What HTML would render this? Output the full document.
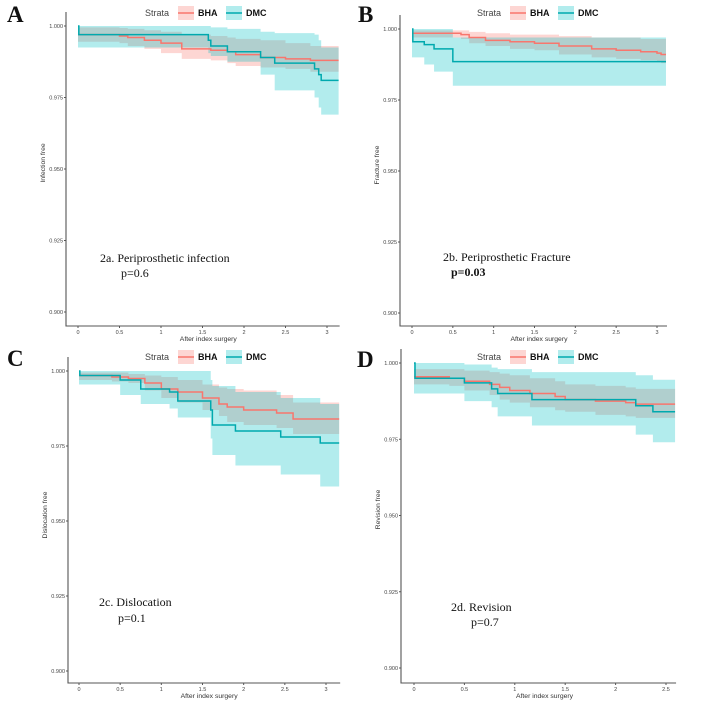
<!DOCTYPE html>
<html><head><meta charset="utf-8">
<style>
html,body{margin:0;padding:0;background:#fff;}
svg{display:block;font-family:"Liberation Sans",sans-serif;}
.serif{font-family:"Liberation Serif",serif;}
</style></head>
<body>
<svg id="chart" width="710" height="702" viewBox="0 0 710 702"></svg>
<script>
// ---- Panel A: infection ----
const aBhaT=[0,0.5,0.6,0.8,1.0,1.25,1.6,1.8,1.9,2.2,2.5,2.8];
const aBhaS=[0.997,0.9965,0.996,0.995,0.994,0.992,0.9915,0.991,0.990,0.989,0.9885,0.988];
const aBhaU=[0.9995,0.9993,0.999,0.9985,0.998,0.997,0.9965,0.996,0.9955,0.995,0.994,0.993];
const aBhaL=[0.9945,0.994,0.993,0.992,0.9905,0.9885,0.988,0.987,0.986,0.9855,0.985,0.984];
const aDmcT=[0,0.01,1.57,1.6,1.8,2.2,2.37,2.85,2.9,2.93];
const aDmcS=[1.0,0.997,0.995,0.993,0.991,0.989,0.987,0.985,0.983,0.981];
const aDmcU=[1.0,1.0,1.0,0.9995,0.999,0.998,0.9975,0.997,0.995,0.9925];
const aDmcL=[0.9925,0.9925,0.9905,0.9895,0.9875,0.983,0.9775,0.975,0.9715,0.969];
// ---- Panel B: fracture ----
const bBhaT=[0,0.6,0.7,0.9,1.2,1.5,1.8,2.2,2.5,2.8,3.0,3.05];
const bBhaS=[0.9985,0.998,0.997,0.996,0.9955,0.995,0.994,0.993,0.9925,0.992,0.9915,0.991];
const bBhaU=[0.9995,0.9995,0.999,0.9985,0.998,0.998,0.9975,0.997,0.997,0.9965,0.9965,0.9965];
const bBhaL=[0.997,0.9965,0.995,0.994,0.993,0.9925,0.991,0.990,0.9895,0.989,0.9885,0.988];
const bDmcT=[0,0.01,0.15,0.27,0.5];
const bDmcS=[1.0,0.9955,0.9945,0.993,0.9885];
const bDmcU=[1.0,1.0,1.0,1.0,0.997];
const bDmcL=[0.990,0.990,0.9875,0.985,0.980];
// ---- Panel C: dislocation ----
const cBhaT=[0,0.4,0.6,0.8,1.0,1.2,1.5,1.7,1.8,2.0,2.4,2.6];
const cBhaS=[0.9985,0.998,0.9975,0.996,0.994,0.993,0.991,0.989,0.988,0.987,0.986,0.984];
const cBhaU=[0.9995,0.9995,0.999,0.9985,0.998,0.997,0.9955,0.9945,0.994,0.9935,0.992,0.9895];
const cBhaL=[0.997,0.9965,0.996,0.9935,0.991,0.9895,0.987,0.985,0.983,0.982,0.981,0.979];
const cDmcT=[0,0.01,0.5,0.75,1.1,1.2,1.6,1.62,1.9,2.45,2.93];
const cDmcS=[1.0,0.9985,0.997,0.994,0.993,0.990,0.987,0.982,0.980,0.978,0.976];
const cDmcU=[1.0,1.0,1.0,1.0,1.0,1.0,0.997,0.995,0.993,0.991,0.989];
const cDmcL=[0.9955,0.9955,0.992,0.989,0.9875,0.9845,0.9775,0.972,0.9685,0.9655,0.9615];
// ---- Panel D: revision ----
const dBhaT=[0,0.35,0.5,0.75,0.85,0.95,1.15,1.4,1.5,1.8,2.1,2.2];
const dBhaS=[0.9955,0.995,0.994,0.993,0.992,0.991,0.990,0.989,0.988,0.9875,0.987,0.9865];
const dBhaU=[0.998,0.998,0.9975,0.997,0.9965,0.996,0.995,0.994,0.993,0.9925,0.992,0.9915];
const dBhaL=[0.993,0.9925,0.991,0.9895,0.988,0.987,0.9855,0.9845,0.984,0.983,0.9825,0.982];
const dDmcT=[0,0.01,0.5,0.77,0.83,1.17,2.2,2.37];
const dDmcS=[1.0,0.995,0.9935,0.9915,0.990,0.988,0.986,0.984];
const dDmcU=[1.0,1.0,0.9995,0.9985,0.998,0.997,0.996,0.9945];
const dDmcL=[0.990,0.990,0.9875,0.9855,0.9825,0.9795,0.9765,0.974];

const yTicks=[1.000,0.975,0.950,0.925,0.900];
const yTickLabels=["1.000","0.975","0.950","0.925","0.900"];

const NS="http://www.w3.org/2000/svg";
const svg=document.getElementById('chart');
function mk(tag,attrs,parent){const e=document.createElementNS(NS,tag);for(const k in attrs)e.setAttribute(k,attrs[k]);(parent||svg).appendChild(e);return e;}

const panels=[
 {id:'a',letter:'A',lx:7,ly:22,axL:66,axB:326,x0:78,x1:327,xs:3,xmax:3.14,y1:26,y0:312,xTicks:[0,0.5,1,1.5,2,2.5,3],ylab:'Infection free',
  bha:[aBhaT,aBhaS,aBhaU,aBhaL],dmc:[aDmcT,aDmcS,aDmcU,aDmcL],legY:12,legX:145,
  t1:'2a. Periprosthetic infection',t1x:100,t1y:262,t2:'p=0.6',t2x:121,t2y:277,bold:false},
 {id:'b',letter:'B',lx:358,ly:22,axL:400,axB:326,x0:412,x1:657,xs:3,xmax:3.11,y1:29,y0:313,xTicks:[0,0.5,1,1.5,2,2.5,3],ylab:'Fracture free',
  bha:[bBhaT,bBhaS,bBhaU,bBhaL],dmc:[bDmcT,bDmcS,bDmcU,bDmcL],legY:12,legX:477,
  t1:'2b. Periprosthetic Fracture',t1x:443,t1y:261,t2:'p=0.03',t2x:451,t2y:276,bold:true},
 {id:'c',letter:'C',lx:7,ly:366,axL:68,axB:683,x0:79,x1:326,xs:3,xmax:3.16,y1:371,y0:671,xTicks:[0,0.5,1,1.5,2,2.5,3],ylab:'Dislocation free',
  bha:[cBhaT,cBhaS,cBhaU,cBhaL],dmc:[cDmcT,cDmcS,cDmcU,cDmcL],legY:356,legX:145,
  t1:'2c. Dislocation',t1x:99,t1y:606,t2:'p=0.1',t2x:118,t2y:622,bold:false},
 {id:'d',letter:'D',lx:357,ly:367,axL:401,axB:683,x0:414,x1:666,xs:2.5,xmax:2.59,y1:363,y0:668,xTicks:[0,0.5,1,1.5,2,2.5],ylab:'Revision free',
  bha:[dBhaT,dBhaS,dBhaU,dBhaL],dmc:[dDmcT,dDmcS,dDmcU,dDmcL],legY:356,legX:477,
  t1:'2d. Revision',t1x:451,t1y:611,t2:'p=0.7',t2x:471,t2y:626,bold:false}
];

function stepPath(T,V,xf,yf,xmax){let d='M'+xf(T[0])+','+yf(V[0]);for(let i=1;i<T.length;i++){d+='H'+xf(T[i])+'V'+yf(V[i]);}d+='H'+xf(xmax);return d;}
function bandPath(T,U,L,xf,yf,xmax){let up=[],lo=[];for(let i=0;i<T.length;i++){const xe=xf(i+1<T.length?T[i+1]:xmax);up.push([xf(T[i]),yf(U[i])],[xe,yf(U[i])]);lo.push([xf(T[i]),yf(L[i])],[xe,yf(L[i])]);}
 let d='M'+up.map(p=>p.join(',')).join('L');d+='L'+lo.reverse().map(p=>p.join(',')).join('L')+'Z';return d;}

panels.forEach(p=>{
 const g=mk('g',{});
 
 
 const xf=v=>p.x0+(v/p.xs)*(p.x1-p.x0);
 const yf=v=>p.y0-((v-0.9)/0.1)*(p.y0-p.y1);
 const lt=mk('text',{x:p.lx,y:p.ly,'font-size':23,'font-weight':'bold',class:'serif',fill:'#111'},g);lt.textContent=p.letter;
 
 
 const bb=mk('path',{d:bandPath(p.bha[0],p.bha[2],p.bha[3],xf,yf,p.xmax),fill:'rgba(248,118,109,0.3)'},g);
 
 
 const db=mk('path',{d:bandPath(p.dmc[0],p.dmc[2],p.dmc[3],xf,yf,p.xmax),fill:'rgba(0,191,196,0.3)'},g);
 
 
 const bl=mk('path',{d:stepPath(p.bha[0],p.bha[1],xf,yf,p.xmax),fill:'none',stroke:'#F8766D','stroke-width':1.5},g);
 
 
 const dl=mk('path',{d:stepPath(p.dmc[0],p.dmc[1],xf,yf,p.xmax),fill:'none',stroke:'#00A9AE','stroke-width':1.5},g);
 
 
 const ax=mk('path',{d:'M'+p.axL+','+(p.y1-14)+'V'+p.axB+'H'+(xf(p.xmax)+1),fill:'none',stroke:'#555','stroke-width':1.1},g);
 
 
 yTicks.forEach((v,i)=>{
  mk('line',{x1:p.axL-2,x2:p.axL,y1:yf(v),y2:yf(v),stroke:'#555'},g);
  const t=mk('text',{x:p.axL-3,y:yf(v)+2,'font-size':5.5,'text-anchor':'end',fill:'#444'},g);t.textContent=yTickLabels[i];
  
  
 });
 p.xTicks.forEach(v=>{
  mk('line',{x1:xf(v),x2:xf(v),y1:p.axB,y2:p.axB+2,stroke:'#555'},g);
  const t=mk('text',{x:xf(v),y:p.axB+8,'font-size':5.5,'text-anchor':'middle',fill:'#444'},g);t.textContent=String(v);
  
  
 });
 const xt=mk('text',{x:(p.x0+xf(p.xmax))/2,y:p.axB+15,'font-size':6.8,'text-anchor':'middle',fill:'#333'},g);xt.textContent='After index surgery';
 
 
 const ym=(p.y1+p.y0)/2-6;
 const yt=mk('text',{x:p.axL-21,y:ym,'font-size':6.8,'text-anchor':'middle',fill:'#333',transform:'rotate(-90 '+(p.axL-21)+' '+ym+')'},g);yt.textContent=p.ylab;
 
 
 const lg=mk('g',{},g);
 
 
 const st=mk('text',{x:p.legX,y:p.legY+4,'font-size':9,fill:'#444'},lg);st.textContent='Strata';
 mk('rect',{x:p.legX+33,y:p.legY-6,width:16,height:14,fill:'rgba(248,118,109,0.3)'},lg);
 mk('line',{x1:p.legX+33,x2:p.legX+49,y1:p.legY+1,y2:p.legY+1,stroke:'#F8766D','stroke-width':1.5},lg);
 const t1=mk('text',{x:p.legX+53,y:p.legY+4,'font-size':9,'font-weight':'bold',fill:'#111'},lg);t1.textContent='BHA';
 
 
 mk('rect',{x:p.legX+81,y:p.legY-6,width:16,height:14,fill:'rgba(0,191,196,0.3)'},lg);
 mk('line',{x1:p.legX+81,x2:p.legX+97,y1:p.legY+1,y2:p.legY+1,stroke:'#00A9AE','stroke-width':1.5},lg);
 const t2=mk('text',{x:p.legX+101,y:p.legY+4,'font-size':9,'font-weight':'bold',fill:'#111'},lg);t2.textContent='DMC';
 
 
 const a1=mk('text',{x:p.t1x,y:p.t1y,'font-size':12,class:'serif',fill:'#111'},g);a1.textContent=p.t1;
 
 
 const a2=mk('text',{x:p.t2x,y:p.t2y,'font-size':12,class:'serif',fill:'#111','font-weight':p.bold?'bold':'normal'},g);a2.textContent=p.t2;
 
 
});
</script>
</body></html>
